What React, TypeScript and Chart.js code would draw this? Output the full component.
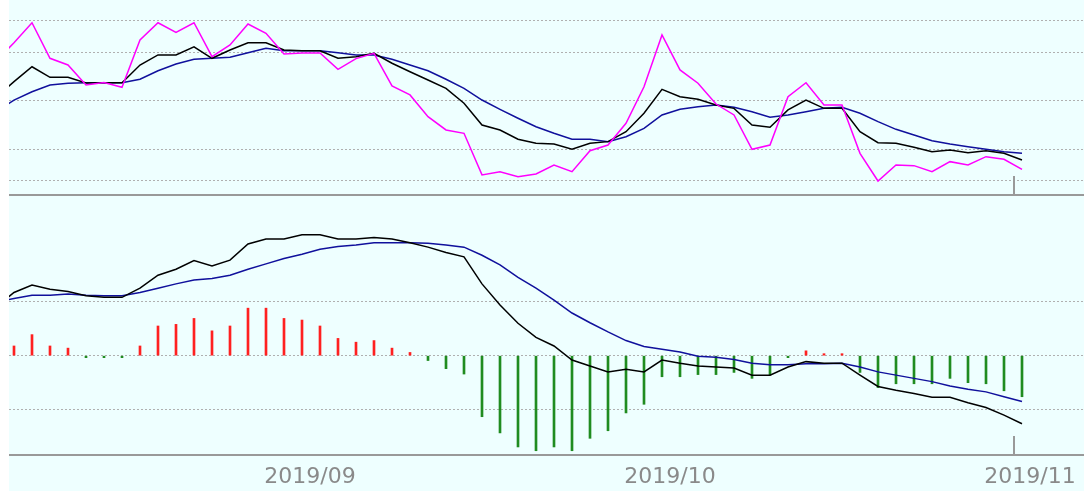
import React, { useEffect, useRef } from 'react';
import { Chart, registerables } from 'chart.js';

Chart.register(...registerables);

// trading-day index (-1 is the day just left of the visible window)
const days = [-1, 0, 1, 2, 3, 4, 5, 6, 7, 8, 9, 10, 11, 12, 13, 14, 15, 16, 17, 18, 19, 20, 21, 22, 23, 24, 25, 26, 27, 28, 29, 30, 31, 32, 33, 34, 35, 36, 37, 38, 39, 40, 41, 42, 43, 44, 45, 46, 47, 48, 49, 50, 51, 52, 53, 54, 55, 56];

// top panel: moving averages
const ma5 = [10.750, 10.864, 10.989, 10.767, 10.725, 10.600, 10.616, 10.586, 10.881, 10.989, 10.929, 10.989, 10.777, 10.850, 10.981, 10.923, 10.794, 10.800, 10.800, 10.698, 10.765, 10.798, 10.594, 10.538, 10.402, 10.319, 10.298, 10.038, 10.058, 10.027, 10.044, 10.100, 10.058, 10.189, 10.225, 10.361, 10.589, 10.913, 10.694, 10.611, 10.481, 10.413, 10.198, 10.225, 10.527, 10.614, 10.475, 10.475, 10.173, 10.000, 10.100, 10.096, 10.058, 10.121, 10.100, 10.152, 10.136, 10.073];
const ma10 = [10.525, 10.621, 10.714, 10.648, 10.648, 10.613, 10.614, 10.614, 10.725, 10.788, 10.788, 10.839, 10.767, 10.819, 10.864, 10.864, 10.819, 10.814, 10.814, 10.767, 10.777, 10.798, 10.736, 10.683, 10.631, 10.579, 10.486, 10.350, 10.319, 10.261, 10.236, 10.231, 10.198, 10.236, 10.246, 10.308, 10.423, 10.573, 10.527, 10.511, 10.475, 10.454, 10.350, 10.336, 10.444, 10.506, 10.454, 10.454, 10.308, 10.239, 10.236, 10.211, 10.183, 10.194, 10.177, 10.189, 10.173, 10.131];
const ma20 = [10.431, 10.506, 10.558, 10.600, 10.611, 10.614, 10.614, 10.614, 10.636, 10.689, 10.731, 10.761, 10.767, 10.773, 10.802, 10.829, 10.814, 10.814, 10.814, 10.802, 10.788, 10.788, 10.761, 10.725, 10.689, 10.636, 10.579, 10.506, 10.448, 10.392, 10.339, 10.298, 10.261, 10.261, 10.246, 10.277, 10.329, 10.413, 10.448, 10.464, 10.475, 10.461, 10.433, 10.398, 10.413, 10.433, 10.454, 10.461, 10.423, 10.371, 10.323, 10.288, 10.252, 10.231, 10.214, 10.198, 10.183, 10.173];

// bottom panel: MACD
const dif = [0.090, 0.117, 0.131, 0.123, 0.119, 0.111, 0.108, 0.108, 0.125, 0.149, 0.160, 0.176, 0.166, 0.177, 0.207, 0.216, 0.216, 0.224, 0.224, 0.216, 0.216, 0.219, 0.216, 0.209, 0.201, 0.191, 0.183, 0.133, 0.094, 0.060, 0.034, 0.018, -0.008, -0.019, -0.030, -0.025, -0.030, -0.008, -0.014, -0.019, -0.021, -0.023, -0.036, -0.036, -0.021, -0.011, -0.014, -0.014, -0.036, -0.057, -0.064, -0.070, -0.077, -0.077, -0.087, -0.096, -0.110, -0.126];
const dea = [0.099, 0.106, 0.112, 0.112, 0.114, 0.112, 0.111, 0.111, 0.117, 0.125, 0.133, 0.140, 0.143, 0.149, 0.160, 0.170, 0.180, 0.188, 0.197, 0.202, 0.205, 0.209, 0.209, 0.209, 0.208, 0.205, 0.201, 0.186, 0.168, 0.145, 0.125, 0.103, 0.079, 0.061, 0.044, 0.028, 0.017, 0.012, 0.007, -0.001, -0.003, -0.007, -0.014, -0.017, -0.017, -0.015, -0.015, -0.014, -0.021, -0.030, -0.036, -0.042, -0.048, -0.056, -0.062, -0.067, -0.076, -0.085];
// histogram, days 0..56
const macdDays = days.slice(1);
const macd = [0.018, 0.039, 0.018, 0.014, -0.001, -0.003, -0.001, 0.018, 0.055, 0.058, 0.069, 0.046, 0.055, 0.088, 0.088, 0.069, 0.066, 0.055, 0.032, 0.025, 0.028, 0.014, 0.006, -0.009, -0.024, -0.034, -0.113, -0.143, -0.169, -0.176, -0.169, -0.176, -0.153, -0.139, -0.106, -0.090, -0.039, -0.039, -0.035, -0.035, -0.031, -0.042, -0.036, -0.001, 0.009, 0.002, 0.002, -0.031, -0.059, -0.052, -0.052, -0.052, -0.042, -0.050, -0.052, -0.065, -0.076];

// axis ticks
const monthTicks = [16, 36, 56];
const monthLabels = ['2019/09', '2019/10', '2019/11'];
const topGridValues = [10.0, 10.2, 10.5, 10.8, 11.0];
const bottomGridValues = [0.1, 0, -0.1];
const cursorDay = 55.55;

const X_MIN = -0.2778;
const X_MAX = 59.4444;
const TOP_MIN = 9.9125;
const TOP_MAX = 11.13125;
const BOT_MIN = -0.1839;
const BOT_MAX = 0.2957;

const BG = '#eeffff';
const GRID = '#b0b0b0';
const AXIS = '#999999';
const MAGENTA = '#ff00ff';
const BLACK = '#000000';
const NAVY = '#10109c';
const RED = '#ff2020';
const GREEN = '#208c20';

const toPoints = (xs: number[], ys: number[]) => ys.map((y, k) => ({ x: xs[k], y }));

const cursorPlugin = {
  id: 'cursorMark',
  afterDatasetsDraw(chart: any) {
    const { ctx, chartArea, scales } = chart;
    const x = Math.round(scales.x.getPixelForValue(cursorDay));
    ctx.save();
    ctx.strokeStyle = AXIS;
    ctx.lineWidth = 2;
    ctx.beginPath();
    ctx.moveTo(x, chartArea.bottom - 19);
    ctx.lineTo(x, chartArea.bottom);
    ctx.stroke();
    ctx.restore();
  },
};

const lineDs = (data: number[], color: string, order: number) => ({
  type: 'line' as const,
  data: toPoints(days, data),
  borderColor: color,
  borderWidth: 1.5,
  pointRadius: 0,
  tension: 0,
  fill: false,
  order,
});

const yScale = (min: number, max: number, gridVals: number[]) => ({
  type: 'linear' as const,
  min,
  max,
  ticks: { display: false },
  grid: { color: GRID, lineWidth: 1, drawTicks: false },
  border: { display: false, dash: [2, 2] },
  afterBuildTicks(s: any) {
    s.ticks = gridVals.map((v) => ({ value: v }));
  },
  afterFit(s: any) {
    s.width = 0;
  },
});

export default function App() {
  const topRef = useRef<HTMLCanvasElement>(null);
  const botRef = useRef<HTMLCanvasElement>(null);

  useEffect(() => {
    const top = new Chart(topRef.current!, {
      type: 'line',
      data: {
        datasets: [lineDs(ma5, MAGENTA, 0), lineDs(ma10, BLACK, 1), lineDs(ma20, NAVY, 2)] as any,
      },
      options: {
        animation: false,
        responsive: false,
        events: [],
        layout: { padding: 0 },
        plugins: { legend: { display: false }, tooltip: { enabled: false } },
        scales: {
          x: {
            type: 'linear',
            min: X_MIN,
            max: X_MAX,
            offset: false,
            ticks: { display: false },
            grid: { display: false, drawTicks: false },
            border: { display: true, color: AXIS, width: 2 },
            afterFit(s: any) {
              s.height = 1;
            },
          },
          y: yScale(TOP_MIN, TOP_MAX, topGridValues),
        } as any,
      },
      plugins: [cursorPlugin],
    });

    const bot = new Chart(botRef.current!, {
      type: 'bar',
      data: {
        datasets: [
          {
            type: 'bar',
            data: toPoints(macdDays, macd),
            backgroundColor: macd.map((v) => (v >= 0 ? RED : GREEN)),
            barThickness: 2,
            minBarLength: 2,
            borderWidth: 0,
            order: 3,
          },
          lineDs(dea, NAVY, 2),
          lineDs(dif, BLACK, 1),
        ] as any,
      },
      options: {
        animation: false,
        responsive: false,
        events: [],
        layout: { padding: 0 },
        plugins: { legend: { display: false }, tooltip: { enabled: false } },
        scales: {
          x: {
            type: 'linear',
            min: X_MIN,
            max: X_MAX,
            offset: false,
            grid: { display: false, drawTicks: false },
            border: { display: true, color: AXIS, width: 2 },
            ticks: {
              color: '#8a8a8a',
              font: { family: 'DejaVu Sans', size: 22 },
              padding: 9,
              labelOffset: 8,
              maxRotation: 0,
              autoSkip: false,
              callback: (v: any) => {
                const k = monthTicks.indexOf(Number(v));
                return k >= 0 ? monthLabels[k] : '';
              },
            },
            afterBuildTicks(s: any) {
              s.ticks = monthTicks.map((v) => ({ value: v }));
            },
            afterFit(s: any) {
              s.height = 36;
            },
          },
          y: yScale(BOT_MIN, BOT_MAX, bottomGridValues),
        } as any,
      },
      plugins: [cursorPlugin],
    });

    return () => {
      top.destroy();
      bot.destroy();
    };
  }, []);

  return (
    <div style={{ position: 'absolute', left: 0, top: 0, width: 1084, height: 491, background: '#ffffff' }}>
      <div style={{ position: 'absolute', left: 9, top: 0, width: 1075, height: 491, background: BG }}>
        <canvas
          ref={topRef}
          width={1075}
          height={196}
          style={{ position: 'absolute', left: 0, top: 0, width: 1075, height: 196 }}
        />
        <canvas
          ref={botRef}
          width={1075}
          height={295}
          style={{ position: 'absolute', left: 0, top: 196, width: 1075, height: 295 }}
        />
      </div>
    </div>
  );
}
